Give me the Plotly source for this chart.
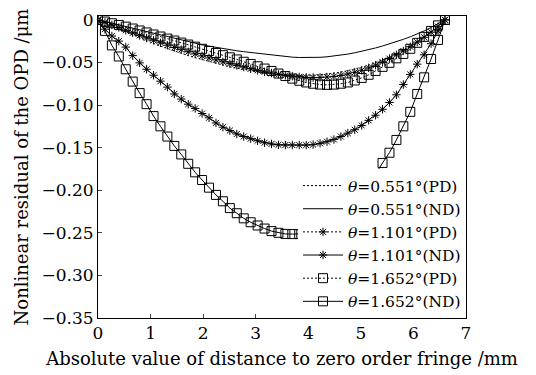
import plotly.graph_objects as go

# distance to zero order fringe (mm)
x_mm = [0.000, 0.132, 0.264, 0.396, 0.528, 0.660, 0.792, 0.924, 1.056, 1.188,
        1.320, 1.452, 1.584, 1.716, 1.848, 1.980, 2.112, 2.244, 2.376, 2.508,
        2.640, 2.772, 2.904, 3.036, 3.168, 3.300, 3.432, 3.564, 3.696, 3.828,
        3.960, 4.092, 4.224, 4.356, 4.488, 4.620, 4.752, 4.884, 5.016, 5.148,
        5.280, 5.412, 5.544, 5.676, 5.808, 5.940, 6.072, 6.204, 6.336, 6.468,
        6.600]

# theta = 0.551 deg, PD
y_0551_pd = [0, -0.0040, -0.0075, -0.0110, -0.0145, -0.0180, -0.0213, -0.0245, -0.0277, -0.0308,
             -0.0338, -0.0366, -0.0393, -0.0420, -0.0445, -0.0468, -0.0490, -0.0512, -0.0532, -0.0551,
             -0.0568, -0.0584, -0.0598, -0.0611, -0.0622, -0.0632, -0.0640, -0.0646, -0.0650, -0.0652,
             -0.0652, -0.0649, -0.0644, -0.0637, -0.0627, -0.0614, -0.0598, -0.0580, -0.0558, -0.0533,
             -0.0504, -0.0472, -0.0437, -0.0398, -0.0356, -0.0310, -0.0261, -0.0208, -0.0146, -0.0078,
             0]
# theta = 0.551 deg, ND
y_0551_nd = [0, -0.0020, -0.0040, -0.0060, -0.0080, -0.0100, -0.0120, -0.0140, -0.0160, -0.0180,
             -0.0200, -0.0220, -0.0240, -0.0258, -0.0276, -0.0293, -0.0309, -0.0324, -0.0338, -0.0351,
             -0.0363, -0.0374, -0.0384, -0.0395, -0.0405, -0.0415, -0.0424, -0.0432, -0.0438, -0.0442,
             -0.0444, -0.0443, -0.0440, -0.0434, -0.0426, -0.0415, -0.0402, -0.0387, -0.0370, -0.0351,
             -0.0330, -0.0307, -0.0283, -0.0257, -0.0229, -0.0199, -0.0166, -0.0130, -0.0090, -0.0046,
             0]
# theta = 1.101 deg, PD
y_1101_pd = [0, -0.0030, -0.0060, -0.0090, -0.0123, -0.0153, -0.0183, -0.0213, -0.0240, -0.0270,
             -0.0298, -0.0325, -0.0350, -0.0375, -0.0400, -0.0424, -0.0447, -0.0470, -0.0493, -0.0515,
             -0.0535, -0.0555, -0.0575, -0.0593, -0.0610, -0.0625, -0.0640, -0.0652, -0.0662, -0.0670,
             -0.0675, -0.0677, -0.0676, -0.0672, -0.0664, -0.0652, -0.0636, -0.0616, -0.0592, -0.0564,
             -0.0532, -0.0495, -0.0455, -0.0412, -0.0365, -0.0315, -0.0262, -0.0205, -0.0145, -0.0080,
             0]
# theta = 1.101 deg, ND
y_1101_nd = [0, -0.0110, -0.0190, -0.0250, -0.0320, -0.0420, -0.0505, -0.0580, -0.0650, -0.0720,
             -0.0790, -0.0870, -0.0930, -0.0990, -0.1040, -0.1100, -0.1150, -0.1210, -0.1260, -0.1300,
             -0.1340, -0.1370, -0.1395, -0.1420, -0.1443, -0.1457, -0.1467, -0.1470, -0.1470, -0.1470,
             -0.1470, -0.1465, -0.1450, -0.1430, -0.1405, -0.1370, -0.1330, -0.1290, -0.1240, -0.1180,
             -0.1120, -0.1050, -0.0970, -0.0880, -0.0760, -0.0640, -0.0520, -0.0410, -0.0280, -0.0130,
             0]
# theta = 1.652 deg, PD
y_1652_pd = [0, -0.0020, -0.0040, -0.0060, -0.0080, -0.0102, -0.0125, -0.0148, -0.0172, -0.0196,
             -0.0220, -0.0243, -0.0267, -0.0290, -0.0315, -0.0340, -0.0365, -0.0390, -0.0415, -0.0440,
             -0.0465, -0.0492, -0.0518, -0.0545, -0.0572, -0.0600, -0.0630, -0.0660, -0.0690, -0.0715,
             -0.0735, -0.0750, -0.0760, -0.0763, -0.0760, -0.0750, -0.0735, -0.0712, -0.0682, -0.0645,
             -0.0600, -0.0552, -0.0505, -0.0452, -0.0400, -0.0340, -0.0270, -0.0200, -0.0130, -0.0065,
             0]
# theta = 1.652 deg, ND
y_1652_nd = [0, -0.0130, -0.0300, -0.0430, -0.0580, -0.0725, -0.0860, -0.0990, -0.1130, -0.1250,
             -0.1370, -0.1480, -0.1580, -0.1690, -0.1790, -0.1880, -0.1970, -0.2055, -0.2130, -0.2210,
             -0.2270, -0.2330, -0.2376, -0.2414, -0.2450, -0.2480, -0.2500, -0.2513, -0.2515, -0.2515,
             -0.2510, -0.2490, -0.2460, -0.2420, -0.2370, -0.2310, -0.2240, -0.2160, -0.2060, -0.1940,
             -0.1810, -0.1680, -0.1560, -0.1410, -0.1250, -0.1080, -0.0870, -0.0675, -0.0460, -0.0236,
             0]

y_tickvals = [0, -0.05, -0.10, -0.15, -0.20, -0.25, -0.30, -0.35]
y_ticktext = ["0", "\u22120.05", "\u22120.10", "\u22120.15", "\u22120.20", "\u22120.25", "\u22120.30", "\u22120.35"]
x_tickvals = [0, 1, 2, 3, 4, 5, 6, 7]

FONT = "DejaVu Serif"
DOT = "2px,2px"

series = [
    ("<i>θ</i>=0.551°(PD)", y_0551_pd, DOT, None),
    ("<i>θ</i>=0.551°(ND)", y_0551_nd, "solid", None),
    ("<i>θ</i>=1.101°(PD)", y_1101_pd, DOT, "asterisk-open"),
    ("<i>θ</i>=1.101°(ND)", y_1101_nd, "solid", "asterisk-open"),
    ("<i>θ</i>=1.652°(PD)", y_1652_pd, DOT, "square-open"),
    ("<i>θ</i>=1.652°(ND)", y_1652_nd, "solid", "square-open"),
]

fig = go.Figure()
for name, ys, dash, sym in series:
    if sym is None:
        fig.add_trace(go.Scatter(x=x_mm, y=ys, name=name, mode="lines",
                                 line=dict(color="black", width=1, dash=dash)))
    else:
        size = 9 if sym == "square-open" else 7
        fig.add_trace(go.Scatter(x=x_mm, y=ys, name=name, mode="lines+markers",
                                 line=dict(color="black", width=1, dash=dash),
                                 marker=dict(symbol=sym, size=size, color="black",
                                             line=dict(color="black", width=1))))

fig.update_layout(
    width=536, height=375,
    margin=dict(l=98, r=70, t=10, b=56),
    paper_bgcolor="white", plot_bgcolor="white",
    font=dict(family=FONT, size=17, color="black"),
    showlegend=True,
    legend=dict(x=1, xanchor="right", y=0.0, yanchor="bottom",
                bgcolor="white", borderwidth=0, itemwidth=40,
                tracegroupgap=0, traceorder="normal",
                font=dict(family=FONT, size=15.5, color="black")),
)
fig.update_xaxes(range=[0, 7], tickvals=x_tickvals, ticks="inside", ticklen=4,
                 showline=True, linecolor="black", linewidth=1, mirror=True,
                 showgrid=False, zeroline=False,
                 title=dict(text="Absolute value of distance to zero order fringe /mm",
                            standoff=9, font=dict(family=FONT, size=18)),
                 tickfont=dict(family=FONT, size=17))
fig.update_yaxes(range=[-0.35, 0.0045], tickvals=y_tickvals, ticktext=y_ticktext,
                 ticks="inside", ticklen=4,
                 showline=True, linecolor="black", linewidth=1, mirror=True,
                 showgrid=False, zeroline=False,
                 title=dict(text="Nonlinear residual of the OPD /μm",
                            standoff=8, font=dict(family=FONT, size=18)),
                 tickfont=dict(family=FONT, size=17))

fig.write_html("out.html")
